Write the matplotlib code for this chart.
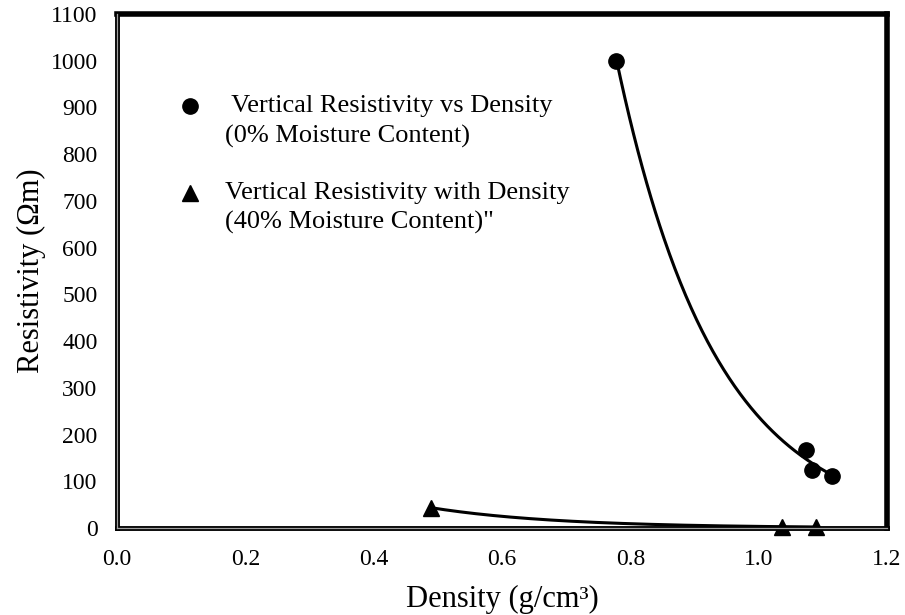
import matplotlib.pyplot as plt
import numpy as np
from matplotlib.lines import Line2D

plt.rcParams['font.family'] = ['Liberation Serif', 'DejaVu Serif']

# 0% moisture content
dens_dry = [0.778, 1.074, 1.083, 1.115]
res_dry = [1000, 167, 124, 112]

# 40% moisture content
dens_wet = [0.49, 1.036, 1.089]
res_wet = [43, 3, 2]

label_dry = ' Vertical Resistivity vs Density\n(0% Moisture Content)'
label_wet = 'Vertical Resistivity with Density\n(40% Moisture Content)"'

xticks = [0.0, 0.2, 0.4, 0.6, 0.8, 1.0, 1.2]
yticks = list(range(0, 1101, 100))


def exp_trend(x, y):
    # excel style exponential trendline
    b, ln_a = np.polyfit(x, np.log(y), 1)
    xx = np.linspace(min(x), max(x), 200)
    return xx, np.exp(ln_a) * np.exp(b * xx)


fig = plt.figure(figsize=(9.05, 6.15), dpi=100)
ax = fig.add_axes([0.1293, 0.1415, 0.8508, 0.8358])

xx, yy = exp_trend(dens_dry, res_dry)
ax.plot(xx, yy, color='black', lw=2.2, zorder=2)
xx, yy = exp_trend(dens_wet, res_wet)
ax.plot(xx, yy, color='black', lw=2.2, zorder=2)

ax.plot(dens_dry, res_dry, 'o', color='black', ms=11, zorder=3, clip_on=False)
ax.plot(dens_wet, res_wet, '^', color='black', ms=11, zorder=3, clip_on=False)

ax.set_xlim(0, 1.2)
ax.set_ylim(0, 1100)
ax.set_xticks(xticks)
ax.set_xticklabels(['%.1f' % t for t in xticks])
ax.set_yticks(yticks)
ax.tick_params(length=0, labelsize=17, pad=15)
ax.tick_params(axis='y', pad=14)

for s in ['top', 'right']:
    ax.spines[s].set_linewidth(4)
for s in ['left', 'bottom']:
    ax.spines[s].set_linewidth(3.5)
ax.add_line(Line2D([0, 0], [0, 1], transform=ax.transAxes, color='#a0a0a0',
                   lw=0.9, clip_on=False, zorder=5))
ax.add_line(Line2D([0, 1], [0, 0], transform=ax.transAxes, color='#a0a0a0',
                   lw=0.9, clip_on=False, zorder=5))

ax.set_xlabel('Density (g/cm³)', fontsize=22, labelpad=11)
ax.set_ylabel('Resistivity (Ωm)', fontsize=22, labelpad=3)

# legend drawn by hand: marker sits on the first line of each label
line_gap = 30 / 514  # one text line, in axes fraction
entries = [('o', label_dry, 0.821), ('^', label_wet, 0.652)]
for marker, label, y0 in entries:
    ax.plot([0.095], [y0], marker=marker, color='black', ms=11,
            transform=ax.transAxes, clip_on=False)
    for i, part in enumerate(label.split('\n')):
        ax.text(0.140, y0 - i * line_gap, part, transform=ax.transAxes,
                fontsize=19, va='center', ha='left')

plt.savefig('out.png', dpi=100)
